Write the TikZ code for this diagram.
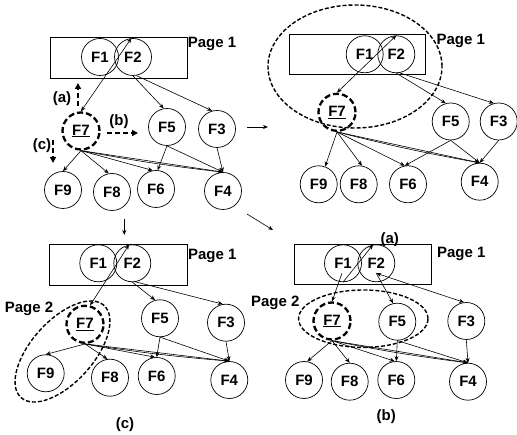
\documentclass[tikz,border=0pt]{standalone}
\usepackage{fontspec}
\setmainfont{Liberation Sans}
\usetikzlibrary{arrows.meta,calc}
\begin{document}
\begin{tikzpicture}[x=1pt,y=-1pt,
  fn/.style={circle,draw,line width=0.7pt,minimum size=37pt,inner sep=0pt,font=\fontsize{15}{15}\selectfont\bfseries},
  fsel/.style={fn,line width=2.3pt,dash pattern=on 6pt off 3pt},
  lbl/.style={font=\fontsize{15}{15}\selectfont\bfseries,inner sep=0pt},
  pagebox/.style={draw,line width=0.7pt},
  edge/.style={-{Stealth[length=5pt,width=4pt]},line width=0.6pt},
  both/.style={{Stealth[length=5pt,width=4pt]}-{Stealth[length=5pt,width=4pt]},line width=0.6pt},
  pgell/.style={draw,line width=1.4pt,dash pattern=on 4pt off 2pt},
  dirarrow/.style={-{Triangle[length=6pt,width=6pt]},line width=2.2pt,dash pattern=on 5pt off 3pt},
  flow/.style={-{Stealth[length=5pt,width=4pt]},line width=0.6pt}
]
\useasboundingbox (0,0) rectangle (517,435);

% ---------------- Panel top-left (original) ----------------
\draw[pagebox] (50.7,37.7) rectangle (187.3,78.3);
\node[fn] (aF1) at (100,57) {F1};
\node[fn] (aF2) at (133,57) {F2};
\node[lbl] (aP1) at (212,44) {Page 1};
\node[fsel] (aF7) at (81,131) {\underline{F7}};
\node[fn] (aF5) at (167,127) {F5};
\node[fn] (aF3) at (217,129) {F3};
\node[fn] (aF9) at (63,190) {F9};
\node[fn] (aF8) at (112,192) {F8};
\node[fn] (aF6) at (156,189) {F6};
\node[fn] (aF4) at (223,191) {F4};
\node[lbl] (la) at (62,99) {(a)};
\node[lbl] (lb) at (119,122) {(b)};
\node[lbl] (lc) at (42,146) {(c)};
\coordinate (aas) at (78,106); \coordinate (aae) at (78,83);
\coordinate (abs) at (107,133); \coordinate (abe) at (138,133);
\coordinate (acs) at (53,140); \coordinate (ace) at (53,163);
\draw[dirarrow] (aas) -- (aae);
\draw[dirarrow] (abs) -- (abe);
\draw[dirarrow] (acs) -- (ace);
\draw[both] (aF7.north) -- (aF2.95);
\draw[edge] (aF2.south) -- (aF5.100);
\draw[edge] (aF2.-80) -- (aF3.105);
\draw[edge] (aF7.south) -- (aF9.north);
\draw[edge] (aF7.south) -- (aF8.100);
\draw[edge] (aF7.south) -- (aF6.100);
\draw[edge] (aF7.south) -- (aF4.north);
\draw[edge] (aF7.south) to[bend right=2] (aF4.north);
\draw[edge] (aF5.south) -- (aF6.85);
\draw[edge] (aF5.south) -- (aF4.north);
\draw[edge] (aF3.south) -- (aF4.north);

% ---------------- Panel top-right (a) ----------------
\draw[pagebox] (289.7,34.3) rectangle (425.7,74.3);
\draw[pgell] (355,66.5) ellipse [x radius=87pt, y radius=61.5pt];
\node[fn] (bF1) at (364.7,54.3) {F1};
\node[fn] (bF2) at (396.3,54.3) {F2};
\node[lbl] (bP1) at (460.7,40.7) {Page 1};
\node[fsel] (bF7) at (337,112.3) {\underline{F7}};
\node[fn] (bF5) at (450.7,121.5) {F5};
\node[fn] (bF3) at (498.7,121.5) {F3};
\node[fn] (bF9) at (318.7,184.3) {F9};
\node[fn] (bF8) at (358.7,184.3) {F8};
\node[fn] (bF6) at (408,184.3) {F6};
\node[fn] (bF4) at (479.7,181.7) {F4};
\node[lbl] (bcap) at (389.7,239.3) {(a)};
\draw[both] (bF7.north) -- (bF2.north);
\draw[edge] (bF2.south) -- (bF5.105);
\draw[edge] (bF2.-80) -- (bF3.105);
\draw[edge] (bF7.south) -- (bF9.70);
\draw[edge] (bF7.south) -- (bF8.80);
\draw[edge] (bF7.south) -- (bF6.100);
\draw[edge] (bF7.south) -- (bF4.north);
\draw[edge] (bF7.south) to[bend right=2] (bF4.north);
\draw[edge] (bF5.south) -- (bF6.100);
\draw[edge] (bF5.south) -- (bF4.north);
\draw[edge] (bF3.south) -- (bF4.north);

% ---------------- Panel bottom-left (c) ----------------
\draw[pagebox] (49.3,244) rectangle (187.7,285);
\draw[pgell,rotate around={48:(62.5,351.5)}] (62.5,351.5) ellipse [x radius=62pt, y radius=31pt];
\node[fn] (cF1) at (98.3,263.3) {F1};
\node[fn] (cF2) at (132.3,263.3) {F2};
\node[lbl] (cP1) at (212.3,255.7) {Page 1};
\node[lbl] (cP2) at (29,309.3) {Page 2};
\node[fsel] (cF7) at (85,324.3) {\underline{F7}};
\node[fn] (cF5) at (160,318.3) {F5};
\node[fn] (cF3) at (226,322.7) {F3};
\node[fn] (cF9) at (45.7,373.3) {F9};
\node[fn] (cF8) at (110,377.7) {F8};
\node[fn] (cF6) at (156.7,376) {F6};
\node[fn] (cF4) at (229.3,380) {F4};
\node[lbl] (ccap) at (125,425) {(c)};
\draw[both] (cF7.75) -- (cF2.100);
\draw[edge] (cF2.south) -- (cF5.105);
\draw[edge] (cF2.-80) -- (cF3.100);
\draw[edge] (cF7.south) -- (cF9.north);
\draw[edge] (cF7.south) -- (cF8.98);
\draw[edge] (cF7.south) -- (cF6.95);
\draw[edge] (cF7.south) -- (cF4.north);
\draw[edge] (cF7.south) to[bend right=2] (cF4.north);
\draw[edge] (cF5.south) -- (cF6.north);
\draw[edge] (cF5.south) -- (cF4.north);
\draw[edge] (cF3.south) -- (cF4.north);

% ---------------- Panel bottom-right (b) ----------------
\draw[pagebox] (294.7,244) rectangle (431.3,284.3);
\draw[pgell] (363.3,318.7) ellipse [x radius=64.7pt, y radius=28.7pt];
\node[fn] (dF1) at (343,263.3) {F1};
\node[fn] (dF2) at (376.3,263.3) {F2};
\node[lbl] (dP1) at (461.3,254.3) {Page 1};
\node[lbl] (dP2) at (275.3,303.3) {Page 2};
\node[fsel] (dF7) at (332,321) {\underline{F7}};
\node[fn] (dF5) at (397.3,321.7) {F5};
\node[fn] (dF3) at (466.3,321) {F3};
\node[fn] (dF9) at (304,380) {F9};
\node[fn] (dF8) at (349.7,381.7) {F8};
\node[fn] (dF6) at (396.3,380) {F6};
\node[fn] (dF4) at (468,381.7) {F4};
\node[lbl] (dcap) at (386.3,416.7) {(b)};
\coordinate (dF1in) at ($(dF1)+(-1,10)$);
\coordinate (dF2in) at ($(dF2)+(0,10)$);
\draw[edge] (dF1in) -- (dF7.north);
\draw[edge] (dF1.south) -- (dF2.100);
\draw[both] (dF2in) -- (dF3.97);
\draw[edge] (dF2in) -- (dF5.103);
\draw[edge] (dF7.south) -- (dF9.80);
\draw[edge] (dF7.south) -- (dF8.north);
\draw[edge] (dF7.south) -- (dF6.95);
\draw[edge] (dF7.south) -- (dF4.north);
\draw[edge] (dF7.south) to[bend right=2] (dF4.north);
\draw[edge] (dF5.south) -- (dF6.north);
\draw[edge] (dF5.south) -- (dF4.north);
\draw[edge] (dF3.south) -- (dF4.north);

% ---------------- arrows between panels ----------------
\coordinate (r1) at (247,127); \coordinate (r2) at (268,127);
\coordinate (d1) at (124.3,219); \coordinate (d2) at (124.3,235);
\coordinate (g1) at (247,214); \coordinate (g2) at (273,230);
\draw[flow] (r1) -- (r2);
\draw[flow] (d1) -- (d2);
\draw[flow] (g1) -- (g2);
\end{tikzpicture}
\end{document}
